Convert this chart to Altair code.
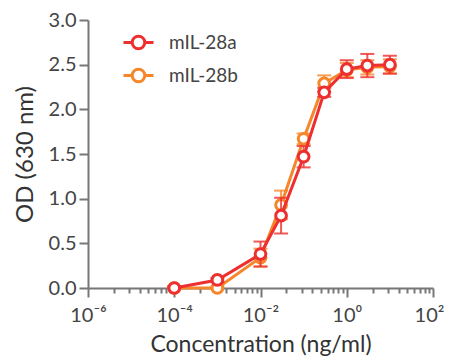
import altair as alt
import pandas as pd

# ---- data ----
conc = [1e-4, 1e-3, 1e-2, 0.03, 0.1, 0.3, 1, 3, 10]
series_names = ["mIL-28a", "mIL-28b"]
series_colors = ["#ee2f2f", "#f5862a"]
od_a = [0.00, 0.09, 0.38, 0.81, 1.47, 2.19, 2.45, 2.49, 2.50]
err_a = [0.02, 0.02, 0.14, 0.20, 0.12, 0.05, 0.10, 0.13, 0.10]
od_b = [0.00, 0.00, 0.34, 0.93, 1.67, 2.29, 2.44, 2.47, 2.48]
err_b = [0.02, 0.02, 0.10, 0.16, 0.06, 0.09, 0.08, 0.08, 0.08]

x_major = [1e-6, 1e-4, 1e-2, 1, 100]
x_major_labels = ["10⁻⁶", "10⁻⁴", "10⁻²", "10⁰", "10²"]
x_minor_mult = [4, 9, 16, 25, 36, 49, 64, 81]
y_ticks = [0, 0.5, 1.0, 1.5, 2.0, 2.5, 3.0]

rows = []
for name, vals, errs in [(series_names[0], od_a, err_a), (series_names[1], od_b, err_b)]:
    for c, v, e in zip(conc, vals, errs):
        rows.append({"series": name, "conc": c, "od": v,
                     "lo": max(v - e, 0), "hi": v + e})
df = pd.DataFrame(rows)

x_ticks = list(x_major)
for m in x_major[:-1]:
    x_ticks += [m * k for k in x_minor_mult]

label_expr = ""
for v, lab in zip(x_major, x_major_labels):
    label_expr += f"datum.value == {v!r} ? '{lab}' : "
label_expr += "''"
major_test = "indexof([" + ",".join(repr(v) for v in x_major) + "], datum.value) >= 0"
last_test = f"datum.value == {x_major[-1]!r}"

FONT = "Lato"

x_enc = alt.X(
    "conc:Q",
    scale=alt.Scale(type="log", domain=[1e-6, 100]),
    axis=alt.Axis(
        values=x_ticks,
        labelExpr=label_expr,
        tickSize=alt.condition(major_test, alt.value(9), alt.value(5)),
        labelOffset=alt.condition(last_test, alt.value(-4), alt.value(0)),
        labelOverlap=False,
        labelFlush=False,
        labelPadding=8,
        title="Concentration (ng/ml)",
        titlePadding=8,
        titleFontSize=23,
    ),
)
y_scale = alt.Scale(domain=[0, 3])
y_axis = alt.Axis(values=y_ticks, format=".1f", tickSize=9, labelPadding=3,
                  title="OD (630 nm)", titlePadding=11, titleFontSize=24)
y_enc = alt.Y("od:Q", scale=y_scale, axis=y_axis)

legend_path = "M-1,0H-0.42M0.42,0H1M0.42,0A0.42,0.42,0,1,1,-0.42,0A0.42,0.42,0,1,1,0.42,0"
color_enc = alt.Color(
    "series:N",
    scale=alt.Scale(domain=series_names, range=series_colors),
    legend=alt.Legend(
        orient="none", legendX=34, legendY=6, title=None,
        labelFont=FONT, labelFontSize=19, labelColor="#444",
        symbolType=legend_path, symbolSize=900, symbolStrokeWidth=3,
        symbolFillColor="white", labelOffset=14, rowPadding=4, padding=0,
    ),
)

base = alt.Chart(df)

def series_layers(name, col):
    b = base.transform_filter(alt.datum.series == name)
    err_rule = b.mark_rule(color=col, strokeWidth=2, opacity=0.8).encode(
        x=x_enc, y=alt.Y("lo:Q", scale=y_scale, axis=y_axis), y2="hi:Q"
    )
    cap_hi = b.mark_tick(color=col, orient="horizontal", size=14, thickness=2, opacity=0.8).encode(
        x=x_enc, y=alt.Y("hi:Q", scale=y_scale, axis=y_axis)
    )
    cap_lo = b.mark_tick(color=col, orient="horizontal", size=14, thickness=2, opacity=0.8).encode(
        x=x_enc, y=alt.Y("lo:Q", scale=y_scale, axis=y_axis)
    )
    line = b.mark_line(strokeWidth=3).encode(x=x_enc, y=y_enc, color=color_enc)
    pts = b.mark_point(filled=False, fill="white", fillOpacity=1, opacity=1, size=115, strokeWidth=3).encode(
        x=x_enc, y=y_enc, color=color_enc
    )
    return [err_rule, cap_hi, cap_lo, line, pts]

layers = series_layers(series_names[1], series_colors[1]) + series_layers(series_names[0], series_colors[0])

chart = alt.layer(*layers).properties(
    width=345, height=268,
    autosize=alt.AutoSizeParams(type="none"),
    padding={"left": 80, "top": 12, "right": 13, "bottom": 72},
).configure_view(stroke=None).configure_axis(
    grid=False,
    domainColor="#777", domainWidth=2,
    tickColor="#777", tickWidth=2,
    labelFont=FONT, labelFontSize=20, labelColor="#444",
    titleFont=FONT, titleFontWeight="normal", titleColor="#333",
)

chart.save("out.html", embed_options={"renderer": "svg", "actions": False})
